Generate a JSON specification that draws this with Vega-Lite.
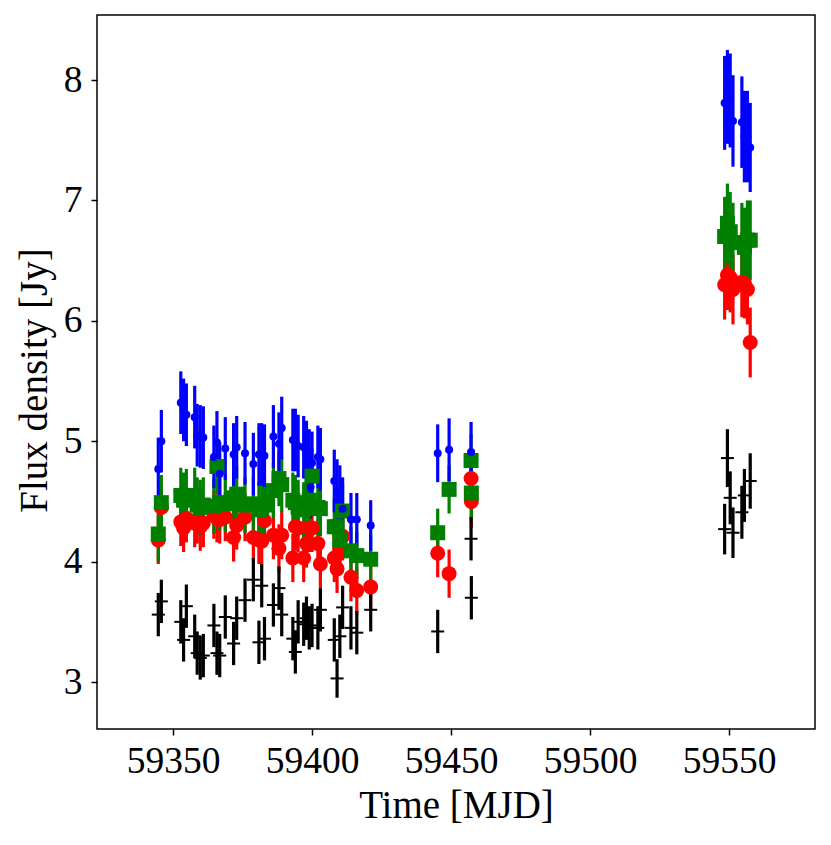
{"$schema":"https://vega.github.io/schema/vega-lite/v6.json","width":718,"height":714,"autosize":"none","padding":{"left":97,"top":15,"right":16,"bottom":116},"background":"white","config":{"view":{"stroke":"black","strokeWidth":1.5},"font":"Liberation Serif"},
"datasets":{
"blue":[{"time":59344.7,"flux":4.77,"err":0.26},{"time":59345.8,"flux":5.0,"err":0.26},{"time":59352.8,"flux":5.32,"err":0.26},{"time":59353.8,"flux":5.26,"err":0.26},{"time":59354.8,"flux":5.22,"err":0.26},{"time":59357.8,"flux":5.2,"err":0.26},{"time":59358.7,"flux":5.05,"err":0.26},{"time":59359.8,"flux":5.04,"err":0.26},{"time":59360.9,"flux":5.03,"err":0.26},{"time":59364.7,"flux":4.87,"err":0.26},{"time":59365.8,"flux":4.99,"err":0.26},{"time":59366.8,"flux":4.73,"err":0.26},{"time":59368.8,"flux":4.94,"err":0.26},{"time":59371.8,"flux":4.89,"err":0.26},{"time":59372.9,"flux":4.95,"err":0.26},{"time":59375.9,"flux":4.9,"err":0.26},{"time":59378.9,"flux":4.81,"err":0.26},{"time":59380.9,"flux":4.89,"err":0.26},{"time":59381.9,"flux":4.89,"err":0.26},{"time":59382.9,"flux":4.88,"err":0.26},{"time":59386.1,"flux":5.04,"err":0.26},{"time":59388.1,"flux":4.98,"err":0.26},{"time":59389.1,"flux":5.11,"err":0.26},{"time":59393.1,"flux":5.01,"err":0.26},{"time":59394.0,"flux":5.01,"err":0.26},{"time":59395.0,"flux":4.96,"err":0.26},{"time":59397.0,"flux":4.95,"err":0.26},{"time":59398.0,"flux":4.91,"err":0.26},{"time":59399.0,"flux":4.84,"err":0.26},{"time":59399.5,"flux":4.62,"err":0.26},{"time":59400.0,"flux":4.82,"err":0.26},{"time":59402.1,"flux":4.87,"err":0.26},{"time":59403.0,"flux":4.85,"err":0.26},{"time":59408.0,"flux":4.67,"err":0.26},{"time":59409.0,"flux":4.59,"err":0.26},{"time":59410.0,"flux":4.54,"err":0.26},{"time":59411.0,"flux":4.44,"err":0.26},{"time":59414.0,"flux":4.35,"err":0.22},{"time":59416.1,"flux":4.35,"err":0.22},{"time":59421.1,"flux":4.3,"err":0.21},{"time":59445.2,"flux":4.9,"err":0.24},{"time":59449.3,"flux":4.93,"err":0.26},{"time":59457.2,"flux":4.91,"err":0.25},{"time":59548.4,"flux":7.81,"err":0.39},{"time":59549.4,"flux":7.86,"err":0.39},{"time":59550.4,"flux":7.83,"err":0.39},{"time":59551.4,"flux":7.66,"err":0.38},{"time":59554.6,"flux":7.65,"err":0.38},{"time":59555.5,"flux":7.53,"err":0.38},{"time":59556.6,"flux":7.53,"err":0.38},{"time":59557.6,"flux":7.44,"err":0.37}],
"green":[{"time":59344.7,"flux":4.23,"err":0.23},{"time":59345.8,"flux":4.49,"err":0.23},{"time":59352.8,"flux":4.55,"err":0.23},{"time":59353.8,"flux":4.51,"err":0.23},{"time":59354.8,"flux":4.54,"err":0.23},{"time":59357.8,"flux":4.55,"err":0.23},{"time":59358.7,"flux":4.47,"err":0.23},{"time":59359.8,"flux":4.45,"err":0.23},{"time":59360.9,"flux":4.47,"err":0.23},{"time":59364.7,"flux":4.46,"err":0.23},{"time":59365.8,"flux":4.79,"err":0.23},{"time":59366.8,"flux":4.49,"err":0.23},{"time":59368.8,"flux":4.48,"err":0.23},{"time":59371.8,"flux":4.53,"err":0.23},{"time":59372.9,"flux":4.56,"err":0.23},{"time":59375.9,"flux":4.47,"err":0.23},{"time":59378.9,"flux":4.48,"err":0.23},{"time":59380.9,"flux":4.43,"err":0.23},{"time":59381.9,"flux":4.45,"err":0.23},{"time":59382.9,"flux":4.47,"err":0.23},{"time":59386.1,"flux":4.59,"err":0.23},{"time":59388.1,"flux":4.69,"err":0.23},{"time":59389.1,"flux":4.64,"err":0.23},{"time":59393.1,"flux":4.51,"err":0.23},{"time":59394.0,"flux":4.49,"err":0.23},{"time":59395.0,"flux":4.45,"err":0.23},{"time":59397.0,"flux":4.43,"err":0.23},{"time":59398.0,"flux":4.47,"err":0.23},{"time":59399.0,"flux":4.51,"err":0.23},{"time":59400.0,"flux":4.71,"err":0.23},{"time":59402.1,"flux":4.45,"err":0.23},{"time":59403.0,"flux":4.44,"err":0.23},{"time":59408.0,"flux":4.29,"err":0.23},{"time":59409.0,"flux":4.29,"err":0.23},{"time":59410.0,"flux":4.18,"err":0.23},{"time":59411.0,"flux":4.42,"err":0.23},{"time":59414.0,"flux":4.09,"err":0.2},{"time":59416.1,"flux":4.05,"err":0.2},{"time":59421.1,"flux":4.02,"err":0.2},{"time":59445.2,"flux":4.24,"err":0.2},{"time":59449.3,"flux":4.6,"err":0.2},{"time":59457.2,"flux":4.84,"err":0.22},{"time":59457.3,"flux":4.57,"err":0.22},{"time":59548.4,"flux":6.7,"err":0.33},{"time":59549.4,"flux":6.81,"err":0.33},{"time":59550.4,"flux":6.74,"err":0.33},{"time":59551.4,"flux":6.65,"err":0.33},{"time":59554.6,"flux":6.65,"err":0.33},{"time":59555.5,"flux":6.61,"err":0.33},{"time":59556.6,"flux":6.67,"err":0.33},{"time":59557.6,"flux":6.67,"err":0.33}],
"red":[{"time":59344.7,"flux":4.18,"err":0.2},{"time":59345.8,"flux":4.45,"err":0.2},{"time":59352.8,"flux":4.33,"err":0.2},{"time":59353.8,"flux":4.28,"err":0.2},{"time":59354.8,"flux":4.36,"err":0.2},{"time":59357.8,"flux":4.32,"err":0.2},{"time":59358.7,"flux":4.35,"err":0.2},{"time":59359.8,"flux":4.29,"err":0.2},{"time":59360.9,"flux":4.32,"err":0.2},{"time":59364.7,"flux":4.39,"err":0.2},{"time":59365.8,"flux":4.36,"err":0.2},{"time":59366.8,"flux":4.35,"err":0.2},{"time":59368.8,"flux":4.37,"err":0.2},{"time":59371.8,"flux":4.2,"err":0.2},{"time":59372.9,"flux":4.3,"err":0.2},{"time":59375.9,"flux":4.37,"err":0.2},{"time":59378.9,"flux":4.2,"err":0.2},{"time":59380.9,"flux":4.18,"err":0.2},{"time":59381.9,"flux":4.17,"err":0.2},{"time":59382.9,"flux":4.34,"err":0.2},{"time":59386.1,"flux":4.22,"err":0.2},{"time":59388.1,"flux":4.11,"err":0.2},{"time":59389.1,"flux":4.22,"err":0.2},{"time":59393.1,"flux":4.03,"err":0.2},{"time":59394.0,"flux":4.29,"err":0.2},{"time":59395.0,"flux":4.28,"err":0.2},{"time":59397.0,"flux":4.03,"err":0.2},{"time":59398.0,"flux":4.15,"err":0.2},{"time":59399.0,"flux":4.28,"err":0.2},{"time":59400.0,"flux":4.28,"err":0.2},{"time":59402.1,"flux":4.15,"err":0.2},{"time":59403.0,"flux":3.98,"err":0.2},{"time":59408.0,"flux":4.03,"err":0.2},{"time":59409.0,"flux":3.94,"err":0.2},{"time":59410.0,"flux":4.1,"err":0.2},{"time":59411.0,"flux":4.21,"err":0.2},{"time":59414.0,"flux":3.87,"err":0.2},{"time":59416.1,"flux":3.76,"err":0.2},{"time":59421.1,"flux":3.79,"err":0.2},{"time":59445.2,"flux":4.07,"err":0.2},{"time":59449.3,"flux":3.9,"err":0.2},{"time":59457.2,"flux":4.69,"err":0.22},{"time":59457.3,"flux":4.5,"err":0.22},{"time":59548.4,"flux":6.3,"err":0.29},{"time":59549.4,"flux":6.38,"err":0.29},{"time":59550.4,"flux":6.36,"err":0.29},{"time":59551.4,"flux":6.26,"err":0.29},{"time":59554.6,"flux":6.32,"err":0.29},{"time":59555.5,"flux":6.31,"err":0.29},{"time":59556.6,"flux":6.26,"err":0.29},{"time":59557.6,"flux":5.82,"err":0.29}],
"black":[{"time":59344.7,"flux":3.56,"err":0.18},{"time":59345.8,"flux":3.67,"err":0.18},{"time":59352.8,"flux":3.5,"err":0.18},{"time":59353.8,"flux":3.35,"err":0.18},{"time":59354.8,"flux":3.63,"err":0.18},{"time":59357.8,"flux":3.38,"err":0.18},{"time":59358.7,"flux":3.24,"err":0.18},{"time":59359.8,"flux":3.2,"err":0.18},{"time":59360.9,"flux":3.22,"err":0.18},{"time":59364.7,"flux":3.47,"err":0.18},{"time":59365.8,"flux":3.24,"err":0.18},{"time":59366.8,"flux":3.22,"err":0.18},{"time":59368.8,"flux":3.54,"err":0.18},{"time":59371.8,"flux":3.32,"err":0.18},{"time":59372.9,"flux":3.53,"err":0.18},{"time":59375.9,"flux":3.68,"err":0.18},{"time":59378.9,"flux":3.85,"err":0.18},{"time":59380.9,"flux":3.33,"err":0.18},{"time":59381.9,"flux":3.8,"err":0.18},{"time":59382.9,"flux":3.36,"err":0.18},{"time":59386.1,"flux":3.64,"err":0.18},{"time":59388.1,"flux":3.78,"err":0.18},{"time":59389.1,"flux":3.56,"err":0.18},{"time":59393.1,"flux":3.36,"err":0.18},{"time":59394.0,"flux":3.25,"err":0.18},{"time":59395.0,"flux":3.5,"err":0.18},{"time":59397.0,"flux":3.48,"err":0.18},{"time":59398.0,"flux":3.53,"err":0.18},{"time":59399.0,"flux":3.45,"err":0.18},{"time":59400.0,"flux":3.47,"err":0.18},{"time":59402.1,"flux":3.45,"err":0.18},{"time":59403.0,"flux":3.6,"err":0.18},{"time":59408.0,"flux":3.35,"err":0.18},{"time":59409.0,"flux":3.03,"err":0.16},{"time":59410.0,"flux":3.38,"err":0.18},{"time":59411.0,"flux":3.62,"err":0.18},{"time":59414.0,"flux":3.45,"err":0.18},{"time":59416.1,"flux":3.41,"err":0.18},{"time":59421.1,"flux":3.6,"err":0.18},{"time":59445.2,"flux":3.42,"err":0.18},{"time":59457.2,"flux":4.19,"err":0.18},{"time":59457.3,"flux":3.7,"err":0.18},{"time":59548.4,"flux":4.27,"err":0.21},{"time":59549.4,"flux":4.86,"err":0.24},{"time":59550.4,"flux":4.53,"err":0.22},{"time":59551.4,"flux":4.24,"err":0.21},{"time":59554.6,"flux":4.41,"err":0.22},{"time":59555.5,"flux":4.55,"err":0.22},{"time":59557.6,"flux":4.67,"err":0.23}]
},
"encoding":{
"x":{"field":"time","type":"quantitative","title":"Time [MJD]","scale":{"domain":[59322.66,59580.9],"nice":false,"zero":false},"axis":{"values":[59350,59400,59450,59500,59550],"format":"d","grid":false,"domain":false,"tickColor":"black","tickWidth":1.5,"tickSize":6,"labelColor":"black","labelFontSize":37.5,"labelFont":"Liberation Serif","labelPadding":7,"titleFont":"Liberation Serif","titleFontSize":39,"titleFontWeight":"normal","titleColor":"black","titlePadding":7,"labelFlush":false}},
"y":{"field":"flux","type":"quantitative","title":"Flux density [Jy]","scale":{"domain":[2.61,8.54],"nice":false,"zero":false},"axis":{"values":[3,4,5,6,7,8],"grid":false,"domain":false,"tickColor":"black","tickWidth":1.5,"tickSize":6,"labelColor":"black","labelFontSize":37.5,"labelFont":"Liberation Serif","labelPadding":9,"titleFont":"Liberation Serif","titleFontSize":39,"titleFontWeight":"normal","titleColor":"black","titlePadding":9,"titleY":365}}
},
"layer":[
{"data":{"name":"red"},"mark":{"type":"errorbar","ticks":false,"rule":{"strokeWidth":3.2,"color":"#ff0000"}},"encoding":{"yError":{"field":"err"}}},
{"data":{"name":"green"},"mark":{"type":"errorbar","ticks":false,"rule":{"strokeWidth":3.2,"color":"#008000"}},"encoding":{"yError":{"field":"err"}}},
{"data":{"name":"blue"},"mark":{"type":"errorbar","ticks":false,"rule":{"strokeWidth":3.2,"color":"#0000ff"}},"encoding":{"yError":{"field":"err"}}},
{"data":{"name":"black"},"mark":{"type":"errorbar","ticks":false,"rule":{"strokeWidth":3.2,"color":"#000000"}},"encoding":{"yError":{"field":"err"}}},
{"data":{"name":"red"},"mark":{"type":"point","shape":"circle","filled":true,"color":"#ff0000","size":225,"opacity":1}},
{"data":{"name":"green"},"mark":{"type":"point","shape":"square","filled":true,"color":"#008000","size":225,"opacity":1}},
{"data":{"name":"blue"},"mark":{"type":"point","shape":"circle","filled":true,"color":"#0000ff","size":64,"opacity":1}},
{"data":{"name":"black"},"mark":{"type":"point","shape":"stroke","filled":false,"color":"#000000","size":169,"strokeWidth":2,"opacity":1}}
]}
